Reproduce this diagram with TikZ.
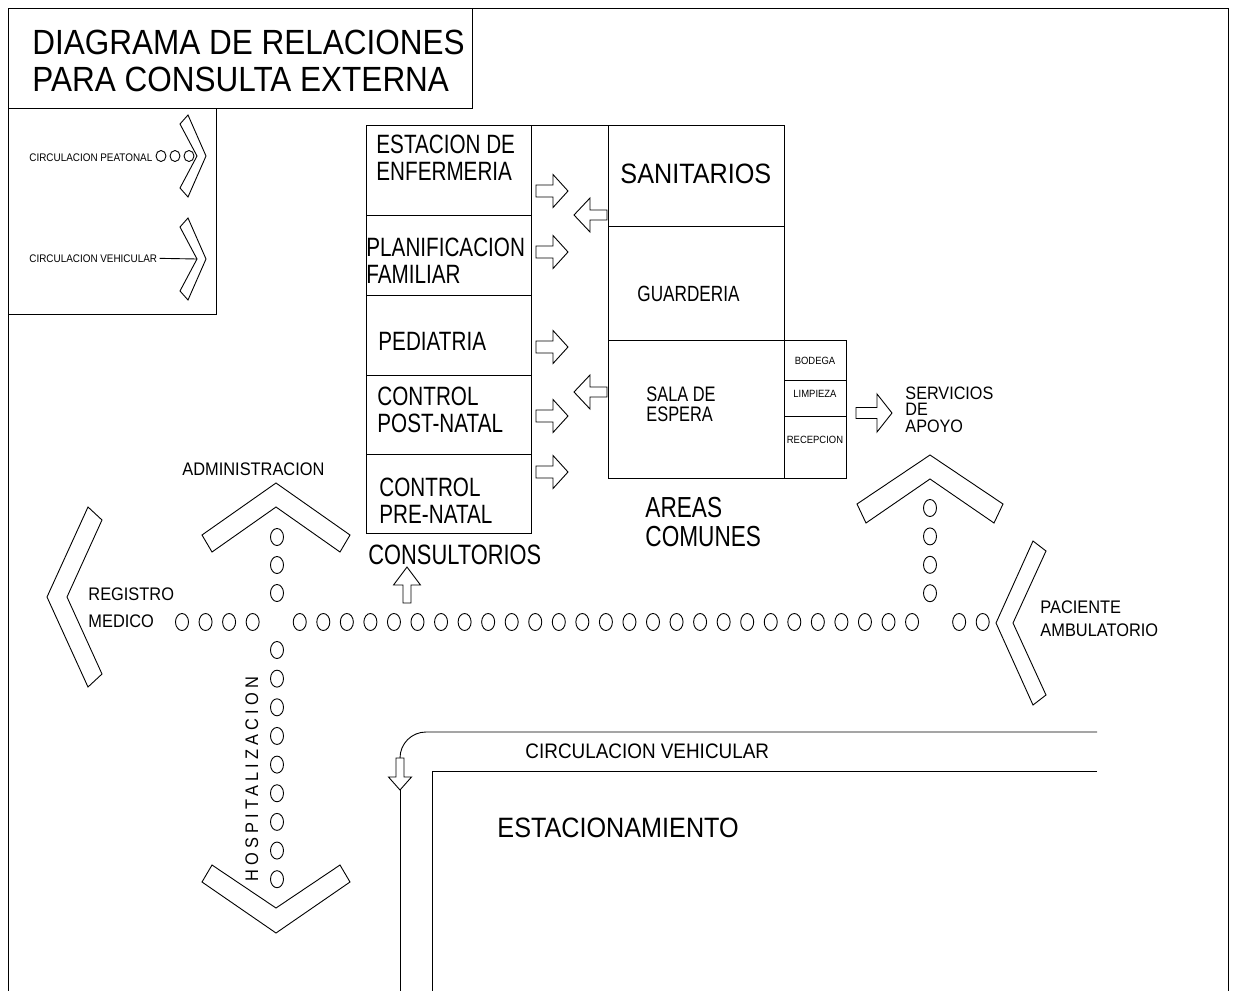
\documentclass[tikz,border=0pt]{standalone}
\usepackage{fontspec}
\setmainfont{Liberation Sans}
\newfontfamily\cad[FakeStretch=0.78]{Liberation Sans}
\newfontfamily\cadw[FakeStretch=0.9]{Liberation Sans}
\newfontfamily\cadsp[FakeStretch=0.9,LetterSpace=23]{Liberation Sans}
\newcommand{\tam}[2]{\fontsize{#1}{#2}\selectfont}

\tikzset{
  pics/chevron/.style args={#1/#2/#3/#4/#5}{code={
    \draw (-#1,#2) -- (0,0) -- (#1,#2) -- (#4,#5) -- (0,#3) -- (-#4,#5) -- cycle;}},
  pics/flecha/.style args={#1/#2/#3/#4}{code={
    \draw (0,-#2) -- (#1,-#2) -- (#1,-#4) -- ({#1+#3},0) -- (#1,#4) -- (#1,#2) -- (0,#2) -- cycle;}}
}

\begin{document}
\begin{tikzpicture}[x=1pt, y=-1pt, line width=0.9pt,
  rotulo/.style={inner sep=0pt, anchor=north west, align=left},
  cuarto/.style={inner sep=0pt, font=\cadw\tam{10.5}{12}},
  paso/.style={x radius=6.5, y radius=8.5},
  pasito/.style={x radius=5, y radius=5.5}]
  \useasboundingbox (0,0) rectangle (1235,991);
  % marco, titulo y simbologia
  \draw (8,991) -- (8,8) -- (1228,8) -- (1228,991);
  \draw (8,108) -- (472,108) -- (472,8);
  \draw (8,314) -- (216,314) -- (216,108);
  \node[rotulo, font=\cadw\tam{35}{37}] (titulo) at (32,30) {DIAGRAMA DE RELACIONES\\PARA CONSULTA EXTERNA};
  \node[rotulo, font=\cadw\tam{11}{13}] (peatonal) at (29,153) {CIRCULACION PEATONAL};
  \node[rotulo, font=\cadw\tam{11}{13}] (vehicular) at (29,254) {CIRCULACION VEHICULAR};
  \foreach \x in {161,175,189} \draw (\x,156) ellipse [pasito];
  \coordinate (vpunta) at (197,259);
  \draw ([xshift=2pt]vehicular.east) -- (vpunta);
  \pic[rotate=-90] at (206,156) {chevron=41/18/9/32/26};
  \pic[rotate=-90] at (206,259) {chevron=41/18/9/32/26};

  % consultorios
  \draw (366,125) rectangle (531,533);
  \foreach \y in {215,295,375,454} \draw (366,\y) -- (531,\y);
  \draw (531,125) -- (608,125);
  \node[rotulo, font=\cad\tam{26.5}{27}] (estacion) at (376,135) {ESTACION DE\\ENFERMERIA};
  \node[rotulo, font=\cad\tam{26.5}{27}] (planif) at (366,238) {PLANIFICACION\\FAMILIAR};
  \node[rotulo, font=\cad\tam{26.5}{27}] (pediatria) at (378,332) {PEDIATRIA};
  \node[rotulo, font=\cad\tam{26.5}{27}] (postnatal) at (377,387) {CONTROL\\POST-NATAL};
  \node[rotulo, font=\cad\tam{26.5}{27}] (prenatal) at (379,478) {CONTROL\\PRE-NATAL};
  \node[rotulo, font=\cad\tam{28}{30}] (consultorios) at (368,544) {CONSULTORIOS};

  % areas comunes
  \draw (608,125) rectangle (784,340);
  \draw (608,226) -- (784,226);
  \draw (608,340) rectangle (846,478);
  \draw (784,340) -- (784,478);
  \draw (784,380) -- (846,380) (784,416) -- (846,416);
  \node[rotulo, font=\cadw\tam{28}{30}] (sanitarios) at (620,163) {SANITARIOS};
  \node[rotulo, font=\cad\tam{22}{24}] (guarderia) at (637,286) {GUARDERIA};
  \node[rotulo, font=\cad\tam{21}{20}] (sala) at (646,386) {SALA DE\\ESPERA};
  \node[cuarto] (bodega) at (815,361) {BODEGA};
  \node[cuarto] (limpieza) at (815,394) {LIMPIEZA};
  \node[cuarto] (recepcion) at (815,440) {RECEPCION};
  \node[rotulo, font=\cad\tam{29}{29}] (areas) at (645,497) {AREAS\\COMUNES};
  \node[rotulo, font=\cadw\tam{18}{16.5}] (servicios) at (905,386) {SERVICIOS\\DE\\APOYO};

  % flechas de relacion
  \foreach \y in {191,252,347,416,472} \pic at (536,\y) {flecha=17/6/15/16.5};
  \foreach \y in {215,392} \pic[rotate=180] at (607,\y) {flecha=17/5/16/17};
  \pic at (856,413) {flecha=21/5.5/15/19};
  \pic[rotate=90] at (407,603) {flecha=18/4/18/13.5};

  % accesos
  \pic at (276,483) {chevron=74/52/24/64/69};
  \pic at (930,455) {chevron=73/49/24/64/68};
  \pic[rotate=180] at (276,933) {chevron=74/51/25/64/68};
  \pic[rotate=90] at (47,597) {chevron=90/41/20/77/55};
  \pic[rotate=90] at (996,623) {chevron=82/37/17/72/50};
  \node[rotulo, font=\cadw\tam{18.2}{20}] (admin) at (182,462) {ADMINISTRACION};
  \node[rotulo, font=\cadw\tam{18.2}{27}] (registro) at (88,587) {REGISTRO\\MEDICO};
  \node[rotulo, font=\cadw\tam{18.2}{23}] (paciente) at (1040,600) {PACIENTE\\AMBULATORIO};
  \node[rotulo, rotate=90, font=\cadsp\tam{18.2}{20}] (hospital) at (245,882) {HOSPITALIZACION};

  % circulacion peatonal
  \foreach \k in {0,...,3} \draw ({182+23.55*\k},622) ellipse [paso];
  \foreach \k in {5,...,31} \draw ({182+23.55*\k},622) ellipse [paso];
  \foreach \k in {33,34} \draw ({182+23.55*\k},622) ellipse [paso];
  \foreach \y in {537,565,593} \draw (277,\y) ellipse [paso];
  \foreach \j in {0,...,8} \draw (277,{650+28.65*\j}) ellipse [paso];
  \foreach \j in {0,...,3} \draw (930,{508+28.4*\j}) ellipse [paso];

  % circulacion vehicular y estacionamiento
  \draw[rounded corners=26pt] (400,758) |- (1097,732);
  \pic[rotate=-90] at (400,758) {flecha=19/4/13/11.5};
  \draw (400,790) -- (400,991);
  \draw (1097,771) -- (432,771) -- (432,991);
  \node[rotulo, font=\cadw\tam{21}{23}] (via) at (525,743) {CIRCULACION VEHICULAR};
  \node[rotulo, font=\cadw\tam{28}{30}] (estacionamiento) at (497,817) {ESTACIONAMIENTO};
\end{tikzpicture}
\end{document}
